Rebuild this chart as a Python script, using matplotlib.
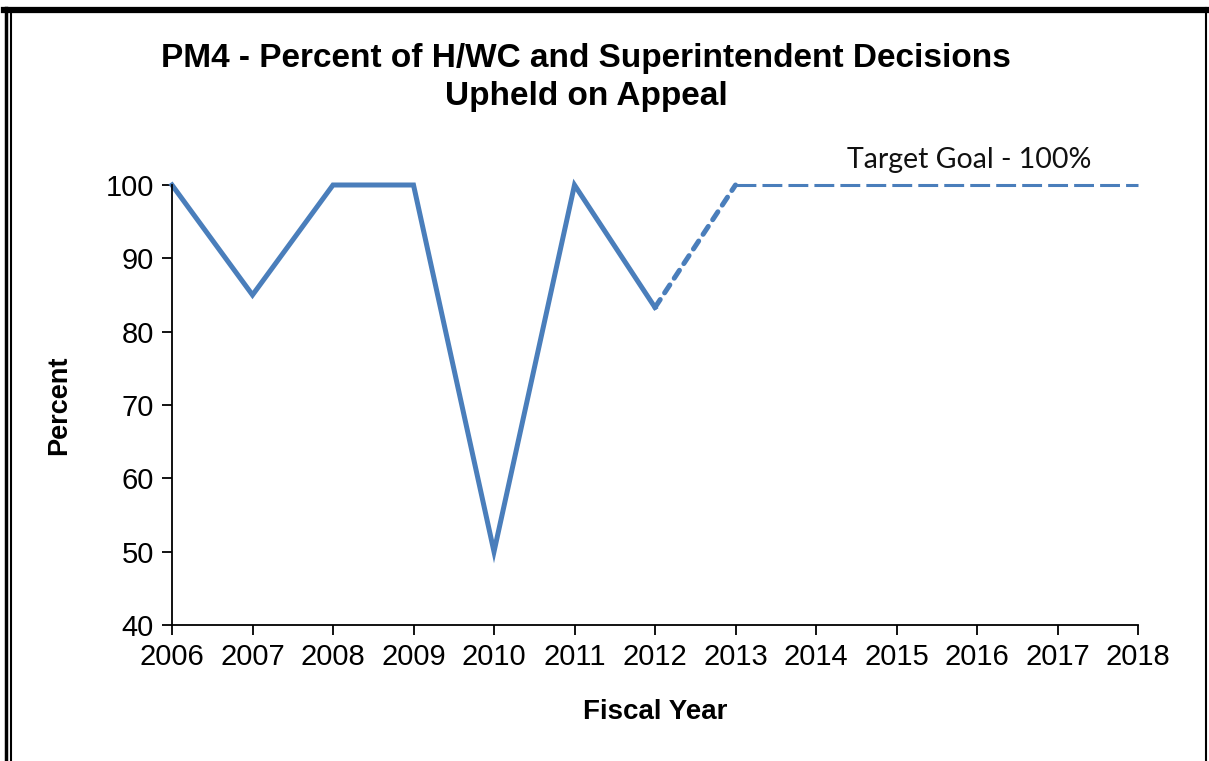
import matplotlib
matplotlib.use("Agg")
from matplotlib import pyplot as plt
from matplotlib.lines import Line2D

plt.rcParams['font.family'] = ['Liberation Sans', 'DejaVu Sans']

years = [2006, 2007, 2008, 2009, 2010, 2011, 2012]
percent = [100, 85, 100, 100, 50, 100, 83.3]
proj_years = [2012, 2013]
proj_percent = [83.3, 100]
goal_years = [2013, 2018]
goal_percent = [100, 100]
xticks = list(range(2006, 2019))
yticks = [40, 50, 60, 70, 80, 90, 100]

W, H = 1209, 761
fig = plt.figure(figsize=(W / 100, H / 100), dpi=100)
ax = fig.add_axes([172 / W, 1 - 625 / H, (1138 - 172) / W, (625 - 185) / H])

blue = '#4a7ebb'
ax.plot(years, percent, color=blue, lw=3.6, solid_joinstyle='miter', clip_on=False)
ax.plot(proj_years, proj_percent, color=blue, lw=3.6, linestyle=(0, (1.9, 1.6)),
        dash_capstyle='round', clip_on=False)
ax.plot(goal_years, goal_percent, color=blue, lw=2.2, linestyle=(0, (6.5, 2)), clip_on=False)

ax.set_xlim(2006, 2018)
ax.set_ylim(40, 100)
ax.set_xticks(xticks)
ax.set_yticks(yticks)
ax.tick_params(axis='both', labelsize=21, length=7, width=1.3, color='black', pad=6)
for s in ['top', 'right']:
    ax.spines[s].set_visible(False)
for s in ['left', 'bottom']:
    ax.spines[s].set_linewidth(1.3)

ax.set_xlabel('Fiscal Year', fontsize=20, fontweight='bold', labelpad=20)
ax.set_ylabel('Percent', fontsize=19.5, fontweight='bold', labelpad=24)

ax.text(2015.9, 101.7, 'Target Goal - 100%', fontsize=20.5, family=['Lato', 'DejaVu Sans'],
        ha='center', va='bottom', color='#111111')

fig.text(586 / W, 1 - 59 / H, 'PM4 - Percent of H/WC and Superintendent Decisions',
         fontsize=24, fontweight='bold', ha='center', va='center')
fig.text(586 / W, 1 - 97 / H, 'Upheld on Appeal',
         fontsize=24, fontweight='bold', ha='center', va='center')

# frame around the chart
def fx(x):
    return x / W

def fy(y):
    return 1 - y / H

fig.add_artist(Line2D([fx(4), fx(1208)], [fy(10), fy(10)], color='black', lw=4.5))
fig.add_artist(Line2D([fx(5.5), fx(5.5)], [fy(8), fy(761)], color='black', lw=2.5))
fig.add_artist(Line2D([fx(10.5), fx(10.5)], [fy(12), fy(761)], color='black', lw=1.5))
fig.add_artist(Line2D([fx(1205.5), fx(1205.5)], [fy(8), fy(761)], color='black', lw=1.5))

fig.savefig('out.png', dpi=100)
